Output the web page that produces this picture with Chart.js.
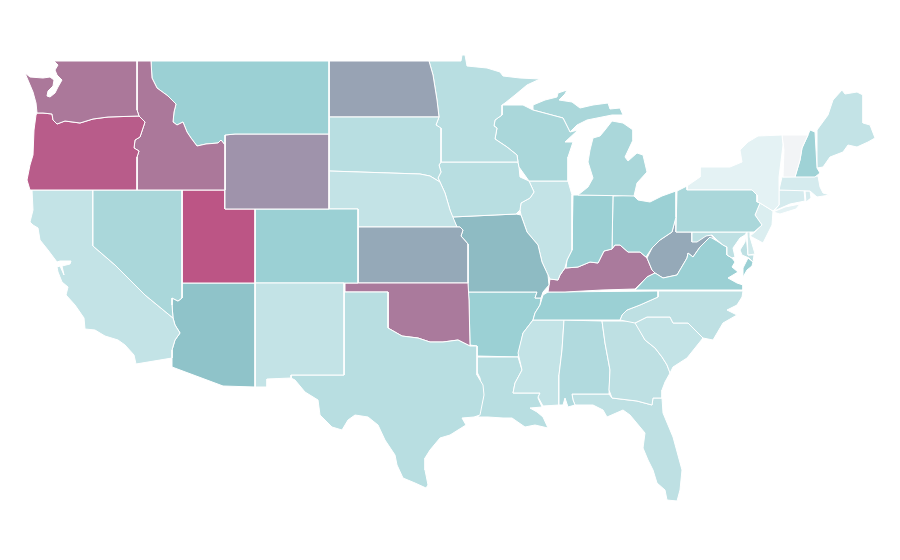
<!DOCTYPE html>
<html>
<head>
<meta charset="utf-8">
<title>US states map</title>
<script src="https://cdn.jsdelivr.net/npm/chart.js@4"></script>
<style>
  html, body { margin: 0; background: #fff; }
  canvas { display: block; }
</style>
</head>
<body>
<canvas id="map" width="900" height="560"></canvas>
<script>
// state values
const stateNames = ['Washington','Oregon','Idaho','Montana','Wyoming','Nevada','Utah','California','Arizona','New Mexico','Colorado',
  'Texas','Oklahoma','Kansas','Nebraska','South Dakota','North Dakota','Minnesota','Wisconsin','Michigan','Iowa','Missouri','Illinois',
  'Indiana','Ohio','Pennsylvania','New York','Vermont','New Hampshire','Maine','Massachusetts','Rhode Island','Connecticut','New Jersey',
  'Delaware','Maryland','Virginia','West Virginia','Kentucky','Tennessee','North Carolina','South Carolina','Georgia','Alabama',
  'Mississippi','Louisiana','Arkansas','Florida'];
const stateValues = [86,97,86,50,77,42,100,28,58,28,50,
  34,85,70,28,34,72,34,42,42,34,62,28,
  50,50,42,10,0,48,28,18,18,18,15,
  21,31,50,70,85,50,31,28,31,38,
  28,34,50,31];

// colour ramp for the values
const rampValues = [0,10,50,60,70,85,100];
const rampColours = [[242,244,246],[228,242,244],[155,208,212],[140,192,198],[149,169,184],[170,122,156],[188,85,133]];

// state outlines in map units, one list per ring
const stateOutlines = {
  'Washington': [[[54,61],[137,61],[137,110],[139,116],[108,117],[93,119],[80,123],[65,121],[57,124],[53,120],[52,114],[43,113],[37,113],[36,103],[33,92],[25,73],[30,77],[43,78],[50,77],[54,80],[53,86],[48,91],[47,96],[50,97],[55,93],[58,87],[62,80],[57,75],[55,70],[58,65]]],
  'Oregon': [[[37,113],[43,113],[52,114],[53,120],[57,124],[65,121],[80,123],[93,119],[108,117],[139,116],[145,122],[143,128],[140,137],[135,140],[134,148],[139,151],[137,157],[137,190],[30,190],[27,180],[30,165],[33,155],[34,130],[36,115]]],
  'Idaho': [[[137,61],[151,61],[152,78],[157,88],[168,96],[176,104],[174,112],[173,122],[177,125],[183,122],[187,132],[191,138],[197,146],[206,144],[218,143],[221,140],[225,145],[225,190],[137,190],[137,157],[139,151],[134,148],[135,140],[140,137],[143,128],[145,122],[139,116],[137,110]]],
  'Montana': [[[151,61],[329,61],[329,134],[235,134],[225,135],[225,145],[221,140],[218,143],[206,144],[197,146],[191,138],[187,132],[183,122],[177,125],[173,122],[174,112],[176,104],[168,96],[157,88],[152,78]]],
  'Wyoming': [[[225,135],[235,134],[329,134],[329,209],[225,209]]],
  'Nevada': [[[93,190],[182,190],[182,298],[178,301],[172,298],[172,305],[173,318],[145,295],[115,265],[93,246]]],
  'Utah': [[[182,190],[225,190],[225,209],[255,209],[255,283],[182,283]]],
  'California': [[[32,190],[93,190],[93,246],[115,265],[145,295],[173,318],[175,325],[180,333],[175,340],[172,350],[172,358],[136,364],[134,355],[125,345],[118,340],[105,336],[95,330],[85,329],[84,318],[75,305],[66,295],[68,287],[62,282],[58,272],[57,267],[60,266],[64,275],[62,266],[70,264],[71,261],[60,261],[57,262],[48,250],[40,240],[38,228],[33,225],[30,222],[33,210]]],
  'Arizona': [[[182,283],[255,283],[255,387],[223,386],[172,367],[172,358],[172,350],[175,340],[180,333],[175,325],[173,318],[172,305],[172,298],[178,301],[182,298]]],
  'New Mexico': [[[255,283],[344,283],[344,375],[291,375],[291,378],[267,379],[267,387],[255,387]]],
  'Colorado': [[[255,209],[358,209],[358,283],[255,283]]],
  'Texas': [[[344,292],[388,292],[388,328],[395,332],[402,336],[418,338],[430,342],[443,342],[458,340],[470,346],[477,346],[477,375],[483,385],[484,395],[480,415],[474,417],[462,418],[466,425],[450,435],[440,438],[430,450],[425,458],[425,470],[428,485],[426,488],[415,483],[403,478],[397,465],[395,455],[385,440],[378,425],[368,417],[355,415],[348,420],[342,430],[332,427],[320,415],[318,400],[305,392],[295,380],[291,378],[291,375],[344,375]]],
  'Oklahoma': [[[345,283],[468,283],[469,300],[470,346],[458,340],[443,342],[430,342],[418,338],[402,336],[395,332],[388,328],[388,292],[345,292]]],
  'Kansas': [[[358,227],[460,227],[463,230],[461,236],[468,244],[468,283],[358,283]]],
  'Nebraska': [[[329,171],[420,174],[430,176],[440,182],[445,193],[450,210],[457,227],[358,227],[358,209],[329,209]]],
  'South Dakota': [[[329,117],[439,117],[436,125],[441,128],[441,162],[439,165],[441,172],[438,178],[440,182],[430,176],[420,174],[329,171]]],
  'North Dakota': [[[329,61],[429,61],[433,75],[437,100],[439,117],[329,117]]],
  'Minnesota': [[[429,61],[461,61],[462,55],[465,55],[467,66],[487,68],[500,72],[503,76],[520,78],[540,79],[527,85],[515,95],[505,103],[502,105],[502,115],[495,120],[494,126],[497,128],[495,139],[507,147],[517,155],[518,162],[440,162],[441,129],[436,125],[439,117],[437,100],[433,75]]],
  'Wisconsin': [[[502,105],[523,105],[533,110],[563,118],[568,128],[570,132],[578,130],[565,142],[573,142],[568,157],[568,181],[529,181],[519,167],[518,162],[517,155],[507,147],[495,139],[497,128],[494,126],[495,120],[502,115]]],
  'Michigan': [
    [[533,105],[545,100],[557,97],[558,93],[567,90],[565,94],[559,100],[572,102],[580,108],[593,105],[608,103],[610,109],[620,108],[623,115],[612,115],[602,117],[587,120],[577,125],[570,132],[568,128],[563,118],[533,110]],
    [[612,121],[623,123],[633,130],[633,140],[625,157],[628,161],[637,153],[643,155],[647,172],[637,183],[634,196],[578,195],[588,187],[593,178],[588,162],[590,150],[593,138],[600,136],[605,130]]
  ],
  'Iowa': [[[441,162],[518,162],[519,167],[520,177],[529,181],[534,192],[530,198],[521,203],[520,210],[516,214],[452,217],[450,210],[445,193],[440,182],[438,178],[441,172],[439,165]]],
  'Missouri': [[[452,217],[516,214],[521,215],[527,232],[538,245],[542,262],[548,275],[549,285],[543,292],[541,298],[535,298],[537,292],[468,292],[468,244],[461,236],[463,230],[460,227],[457,227]]],
  'Illinois': [[[529,181],[568,181],[572,195],[572,250],[567,260],[565,268],[560,275],[558,280],[550,279],[548,275],[542,262],[538,245],[527,232],[521,215],[520,210],[521,203],[530,198],[534,192]]],
  'Indiana': [[[573,195],[613,195],[612,249],[604,251],[598,263],[590,262],[578,267],[566,268],[567,260],[572,250]]],
  'Ohio': [[[613,196],[633,195],[638,200],[650,202],[662,196],[676,191],[676,217],[672,232],[660,240],[652,248],[646,257],[640,252],[628,252],[620,245],[615,245],[612,249]]],
  'Pennsylvania': [[[677,191],[687,186],[687,190],[752,190],[757,195],[757,202],[760,203],[755,215],[762,225],[754,232],[676,232]]],
  'New York': [
    [[687,190],[752,190],[757,195],[757,202],[760,203],[773,211],[779,205],[779,190],[779,177],[783,145],[782,135],[758,136],[748,142],[740,150],[742,162],[730,167],[700,167],[700,177],[687,186]],
    [[773,212],[785,207],[800,204],[796,209],[780,214]]
  ],
  'Vermont': [[[782,135],[808,135],[802,148],[800,160],[795,177],[783,177],[784,150]]],
  'New Hampshire': [[[810,130],[815,132],[817,168],[820,173],[815,177],[795,177],[800,160],[802,148],[808,135]]],
  'Maine': [[[817,168],[817,130],[828,115],[833,100],[842,90],[845,94],[857,92],[863,95],[863,123],[870,125],[875,138],[868,142],[857,147],[848,145],[843,152],[830,157],[823,167]]],
  'Massachusetts': [[[782,177],[818,176],[820,187],[823,193],[830,195],[817,197],[810,191],[779,190]]],
  'Rhode Island': [[[805,191],[810,191],[811,198],[806,202]]],
  'Connecticut': [[[779,190],[804,190],[805,201],[790,204],[774,211],[779,205]]],
  'New Jersey': [[[760,203],[773,211],[772,225],[763,243],[750,236],[755,232],[762,225],[755,215]]],
  'Delaware': [[[750,231],[747,232],[748,255],[755,254],[753,247],[750,237]]],
  'Maryland': [
    [[692,232],[747,232],[745,235],[740,238],[733,248],[735,257],[732,258],[727,255],[727,247],[723,245],[717,240],[712,235],[706,236],[697,242],[692,242]],
    [[746,234],[748,255],[754,255],[753,262],[749,258],[742,255],[740,250],[745,242]]
  ],
  'Virginia': [
    [[655,273],[663,278],[677,275],[687,258],[688,253],[693,257],[700,247],[710,237],[717,241],[723,245],[727,247],[727,255],[732,258],[735,262],[732,267],[738,272],[733,275],[728,278],[737,283],[743,285],[743,290],[635,290],[647,277]],
    [[748,258],[753,262],[752,266],[747,270],[743,277],[743,268],[746,262]]
  ],
  'West Virginia': [[[676,217],[676,232],[692,232],[692,242],[700,235],[710,234],[715,240],[715,243],[710,237],[700,247],[693,257],[688,253],[687,258],[677,275],[663,278],[655,273],[652,270],[647,258],[652,248],[660,240],[672,232]]],
  'Kentucky': [[[550,279],[558,280],[560,275],[565,268],[578,267],[590,262],[598,263],[604,251],[612,249],[615,245],[620,245],[628,252],[640,252],[647,258],[652,270],[655,273],[647,277],[635,289],[602,290],[565,292],[548,292]]],
  'Tennessee': [[[548,292],[658,291],[658,297],[640,305],[627,310],[622,315],[620,320],[533,320],[535,313],[540,305],[543,295]]],
  'North Carolina': [[[658,291],[743,291],[742,297],[737,305],[727,310],[737,315],[723,323],[713,340],[703,338],[688,323],[673,323],[670,317],[647,317],[635,323],[620,320],[622,315],[627,310],[640,305],[658,297]]],
  'South Carolina': [[[635,323],[647,317],[670,317],[673,323],[688,323],[703,338],[687,358],[673,367],[670,373],[667,365],[662,357],[655,348],[645,340]]],
  'Georgia': [[[602,321],[635,321],[645,340],[655,348],[662,357],[667,365],[670,373],[665,382],[662,390],[662,398],[653,398],[652,405],[637,401],[612,398],[609,390],[610,370],[605,343]]],
  'Alabama': [[[564,320],[602,321],[605,343],[610,370],[609,394],[572,394],[573,400],[575,405],[568,407],[565,398],[563,405],[559,405],[559,375],[562,350]]],
  'Mississippi': [[[533,320],[564,320],[562,350],[559,375],[559,405],[543,406],[538,397],[540,393],[513,393],[515,383],[522,370],[518,353],[523,333]]],
  'Louisiana': [[[477,357],[518,357],[522,370],[515,383],[513,393],[540,393],[538,398],[542,407],[530,408],[537,412],[543,417],[548,428],[535,425],[525,427],[512,418],[503,418],[488,417],[478,417],[483,398],[480,378],[477,372]]],
  'Arkansas': [[[468,292],[537,292],[535,298],[541,298],[540,305],[535,313],[533,320],[523,333],[518,357],[477,356],[477,346],[470,345],[469,300]]],
  'Florida': [[[572,394],[609,394],[612,398],[637,401],[652,405],[653,398],[662,398],[663,413],[673,437],[682,470],[680,490],[677,501],[667,500],[665,490],[657,483],[653,470],[648,460],[643,448],[645,433],[630,415],[623,410],[607,417],[603,410],[593,405],[577,405],[575,405],[573,400]]]
};

function rampColour(value) {
  let i = 0;
  while (i < rampValues.length - 2 && value > rampValues[i + 1]) i++;
  const t = (value - rampValues[i]) / (rampValues[i + 1] - rampValues[i]);
  const c = rampColours[i].map((v, k) => Math.round(v + (rampColours[i + 1][k] - v) * t));
  return `rgb(${c[0]},${c[1]},${c[2]})`;
}

const datasets = [];
stateNames.forEach((name, i) => {
  stateOutlines[name].forEach(ring => {
    datasets.push({
      label: name,
      data: ring.concat([ring[0]]).map(p => ({ x: p[0], y: p[1] })),
      showLine: true,
      fill: 'shape',
      tension: 0,
      backgroundColor: rampColour(stateValues[i]),
      borderColor: '#fff',
      borderWidth: 1,
      pointRadius: 0,
      pointHoverRadius: 0
    });
  });
});

new Chart(document.getElementById('map').getContext('2d'), {
  type: 'scatter',
  data: { datasets },
  options: {
    responsive: false,
    animation: false,
    devicePixelRatio: 1,
    layout: { padding: 0 },
    plugins: { legend: { display: false }, tooltip: { enabled: false } },
    scales: {
      x: { type: 'linear', display: false, min: 0, max: 900 },
      y: { type: 'linear', display: false, min: 0, max: 560, reverse: true }
    }
  }
});
</script>
</body>
</html>
